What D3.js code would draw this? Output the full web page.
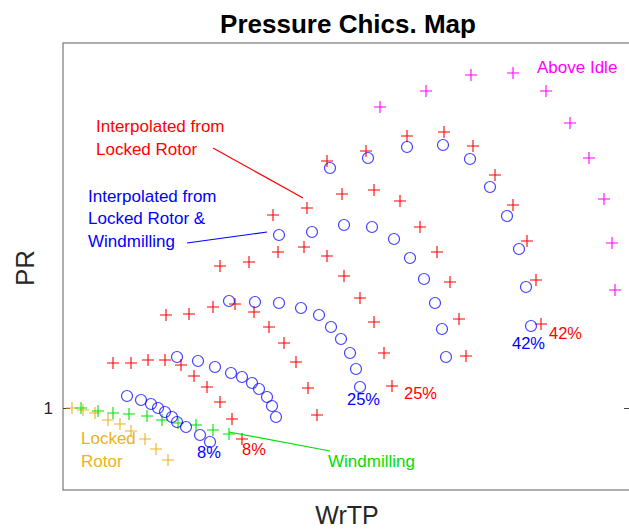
<!DOCTYPE html>
<html>
<head>
<meta charset="utf-8">
<script src="https://cdn.jsdelivr.net/npm/d3@7"></script>
<style>
  body { margin: 0; background: #fff; }
  svg text { font-family: "Liberation Sans", Arial, Helvetica, sans-serif; }
</style>
</head>
<body>
<div id="chart"></div>
<script>
// map series (WrTP, PR)
const blue8a = [[0.64, 1.06], [0.78, 1.04], [0.88, 1.02], [0.95, 1.00], [1.02, 0.98], [1.09, 0.955], [1.14, 0.93], [1.23, 0.905], [1.37, 0.865], [1.47, 0.83]];
const blue8b = [[1.14, 1.255], [1.35, 1.235], [1.52, 1.205], [1.68, 1.175], [1.79, 1.155], [1.89, 1.125], [1.96, 1.095], [2.04, 1.055], [2.09, 1.01], [2.13, 0.955]];
const blue25 = [[1.66, 1.535], [1.92, 1.53], [2.16, 1.525], [2.38, 1.50], [2.56, 1.465], [2.68, 1.405], [2.78, 1.345], [2.87, 1.275], [2.93, 1.195], [2.97, 1.105]];
const blue33 = [[2.16, 1.865], [2.49, 1.88], [2.81, 1.915], [3.09, 1.905], [3.31, 1.845], [3.47, 1.75], [3.61, 1.645], [3.72, 1.525], [3.79, 1.395], [3.83, 1.255]];
const blue42 = [[2.67, 2.20], [3.05, 2.25], [3.44, 2.305], [3.80, 2.315], [4.07, 2.245], [4.27, 2.105], [4.44, 1.96], [4.56, 1.795], [4.63, 1.605], [4.68, 1.41]];

const red8 = [[0.50, 1.225], [0.68, 1.225], [0.85, 1.24], [1.02, 1.24], [1.18, 1.215], [1.31, 1.16], [1.44, 1.105], [1.57, 1.03], [1.69, 0.945], [1.79, 0.845]];
const red17 = [[1.03, 1.465], [1.26, 1.47], [1.50, 1.505], [1.72, 1.52], [1.91, 1.48], [2.06, 1.405], [2.21, 1.325], [2.33, 1.23], [2.45, 1.10], [2.54, 0.965]];
const red25 = [[1.57, 1.71], [1.86, 1.73], [2.15, 1.78], [2.41, 1.805], [2.64, 1.76], [2.81, 1.66], [2.97, 1.55], [3.11, 1.43], [3.21, 1.275], [3.29, 1.11]];
const red33 = [[2.10, 1.965], [2.44, 2.00], [2.79, 2.07], [3.11, 2.09], [3.37, 2.035], [3.57, 1.905], [3.74, 1.78], [3.87, 1.63], [3.96, 1.445], [4.03, 1.26]];
const red42 = [[2.64, 2.235], [3.03, 2.285], [3.44, 2.36], [3.81, 2.38], [4.10, 2.31], [4.32, 2.165], [4.50, 2.015], [4.64, 1.835], [4.73, 1.64], [4.78, 1.42]];

const windmilling = [[0.18, 1.00], [0.35, 0.985], [0.50, 0.975], [0.66, 0.97], [0.84, 0.96], [0.99, 0.94], [1.15, 0.925], [1.33, 0.915], [1.50, 0.89], [1.66, 0.87]];
const lockedRotor = [[0.09, 1.00], [0.20, 0.99], [0.32, 0.975], [0.45, 0.94], [0.57, 0.92], [0.68, 0.885], [0.82, 0.845], [0.93, 0.795], [1.05, 0.74]];
const aboveIdle = [[3.17, 2.505], [3.63, 2.585], [4.08, 2.665], [4.50, 2.675], [4.83, 2.585], [5.07, 2.425], [5.26, 2.25], [5.41, 2.045], [5.49, 1.825], [5.52, 1.59]];

const yTicks = [1];
const yTickLabels = ['1'];

const RED = '#ff0000', BLUE = '#0000ff', GREEN = '#00e000', ORANGE = '#edb120', MAGENTA = '#ff00ff';

// text annotations: [x, y, text, colour]
const labels = [
  [4.74, 2.705, 'Above Idle', MAGENTA],
  [0.33, 2.41, 'Interpolated from', RED],
  [0.33, 2.295, 'Locked Rotor', RED],
  [0.25, 2.06, 'Interpolated from', BLUE],
  [0.25, 1.95, 'Locked Rotor &', BLUE],
  [0.25, 1.835, 'Windmilling', BLUE],
  [0.18, 0.85, 'Locked', ORANGE],
  [0.18, 0.735, 'Rotor', ORANGE],
  [2.65, 0.735, 'Windmilling', GREEN],
  [1.34, 0.78, '8%', BLUE],
  [1.79, 0.795, '8%', RED],
  [2.84, 1.045, '25%', BLUE],
  [3.41, 1.075, '25%', RED],
  [4.49, 1.325, '42%', BLUE],
  [4.86, 1.375, '42%', RED]
];
const leaders = [
  [[1.50, 2.30], [2.40, 2.05], RED],
  [[1.24, 1.825], [2.04, 1.88], BLUE],
  [[1.66, 0.88], [2.67, 0.785], GREEN]
];

const W = 629, H = 529;
const margin = { top: 43, right: -2, bottom: 39, left: 63 };

const svg = d3.select('#chart').append('svg')
  .attr('width', W)
  .attr('height', H);

const x = d3.scaleLinear().domain([0, 5.68]).range([margin.left, W - margin.right]);
const y = d3.scaleLinear().domain([0.59, 2.825]).range([H - margin.bottom, margin.top]);

// axes box
svg.append('rect')
  .attr('x', x.range()[0])
  .attr('y', y.range()[1])
  .attr('width', x.range()[1] - x.range()[0])
  .attr('height', y.range()[0] - y.range()[1])
  .attr('fill', 'none')
  .attr('stroke', '#777')
  .attr('stroke-width', 1.2);

const yAxis = d3.axisLeft(y)
  .tickValues(yTicks)
  .tickFormat((d, i) => yTickLabels[i])
  .tickSize(-7)
  .tickPadding(10);
const gY = svg.append('g')
  .attr('transform', `translate(${margin.left},0)`)
  .call(yAxis);
gY.select('.domain').remove();
gY.selectAll('.tick line').attr('stroke', '#444');
gY.selectAll('.tick text')
  .attr('font-size', 17)
  .attr('fill', '#262626')
  .style('font-family', '"Liberation Sans", Arial, sans-serif');

const gY2 = svg.append('g')
  .attr('transform', `translate(${W - margin.right},0)`)
  .call(d3.axisRight(y).tickValues(yTicks).tickSize(-7).tickFormat(''));
gY2.select('.domain').remove();
gY2.selectAll('.tick line').attr('stroke', '#444');

// markers
function plus(data, colour) {
  svg.append('g').selectAll('path')
    .data(data)
    .enter()
    .append('path')
    .attr('d', d => `M${x(d[0]) - 6},${y(d[1])}h12M${x(d[0])},${y(d[1]) - 6}v12`)
    .attr('stroke', colour)
    .attr('stroke-width', 1.1)
    .attr('fill', 'none');
}
function ring(data, colour) {
  svg.append('g').selectAll('circle')
    .data(data)
    .enter()
    .append('circle')
    .attr('cx', d => x(d[0]))
    .attr('cy', d => y(d[1]))
    .attr('r', 5.5)
    .attr('stroke', colour)
    .attr('stroke-width', 1.2)
    .attr('stroke-opacity', 0.75)
    .attr('fill', 'none');
}

[red8, red17, red25, red33, red42].forEach(s => plus(s, RED));
plus(aboveIdle, MAGENTA);
plus(lockedRotor, ORANGE);
plus(windmilling, GREEN);
[blue8a, blue8b, blue25, blue33, blue42].forEach(s => ring(s, BLUE));

// leader lines
svg.append('g').selectAll('line')
  .data(leaders)
  .enter()
  .append('line')
  .attr('x1', d => x(d[0][0]))
  .attr('y1', d => y(d[0][1]))
  .attr('x2', d => x(d[1][0]))
  .attr('y2', d => y(d[1][1]))
  .attr('stroke', d => d[2])
  .attr('stroke-width', 1.2);

svg.append('g').selectAll('text')
  .data(labels)
  .enter()
  .append('text')
  .attr('x', d => x(d[0]))
  .attr('y', d => y(d[1]))
  .attr('dy', '0.36em')
  .attr('font-size', d => d[2].endsWith('%') ? 16.5 : 17)
  .attr('fill', d => d[3])
  .text(d => d[2]);

// titles
svg.append('text')
  .attr('x', 348)
  .attr('y', 33)
  .attr('text-anchor', 'middle')
  .attr('font-size', 26)
  .attr('font-weight', 'bold')
  .attr('fill', '#000')
  .text('Pressure Chics. Map');

svg.append('text')
  .attr('x', 347)
  .attr('y', 524)
  .attr('text-anchor', 'middle')
  .attr('font-size', 25)
  .attr('fill', '#262626')
  .text('WrTP');

svg.append('text')
  .attr('transform', 'translate(34,268) rotate(-90)')
  .attr('text-anchor', 'middle')
  .attr('font-size', 26)
  .attr('fill', '#262626')
  .text('PR');
</script>
</body>
</html>
